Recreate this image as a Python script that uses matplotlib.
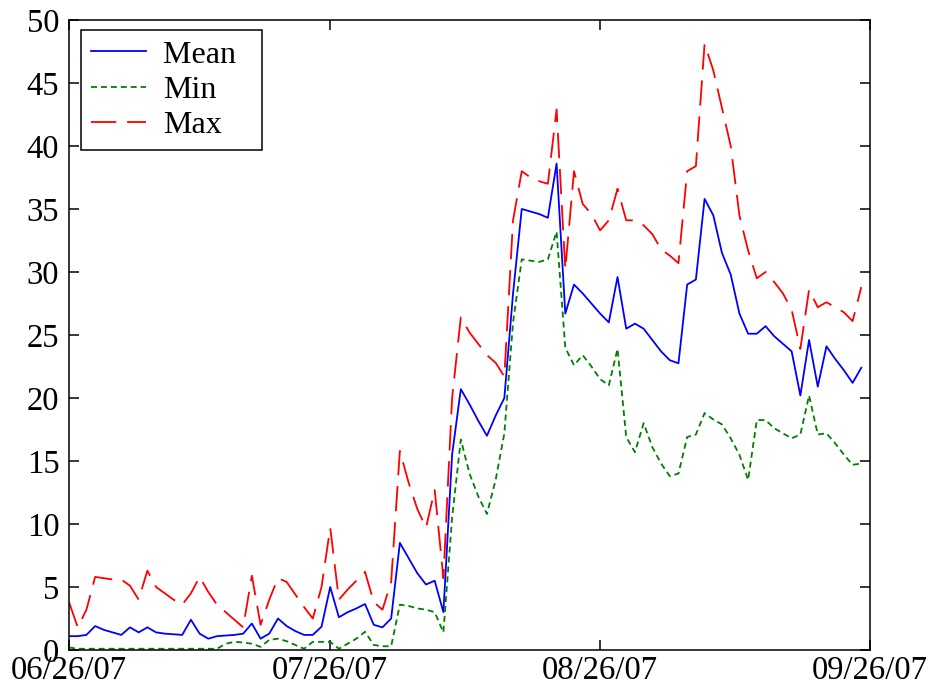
import datetime as dt
import matplotlib
matplotlib.use("Agg")
import matplotlib.pyplot as plt
import matplotlib.dates as mdates

plt.rcParams['font.family'] = ['Liberation Serif', 'DejaVu Serif']

# days after 06/26/07, one reading per day
start = dt.date(2007, 6, 26)
day_offsets = list(range(92))
series_names = ['Mean', 'Min', 'Max']

mean_vals = [1.1, 1.1, 1.2, 1.9, 1.6, 1.4, 1.2, 1.8, 1.4, 1.8,
             1.4, 1.3, 1.25, 1.2, 2.4, 1.3, 0.9, 1.1, 1.15, 1.2,
             1.3, 2.1, 0.9, 1.3, 2.5, 1.9, 1.5, 1.2, 1.2, 1.85,
             5.0, 2.6, 3.0, 3.3, 3.65, 2.0, 1.8, 2.5, 8.5, 7.3,
             6.1, 5.2, 5.5, 3.0, 15.5, 20.7, 19.5, 18.2, 17.0, 18.6,
             20.0, 28.3, 35.0, 34.8, 34.6, 34.3, 38.6, 26.7, 29.0, 28.3,
             27.5, 26.7, 26.0, 29.6, 25.5, 25.9, 25.5, 24.6, 23.7, 23.0,
             22.75, 29.0, 29.4, 35.8, 34.5, 31.5, 29.8, 26.7, 25.1, 25.1,
             25.7, 24.9, 24.3, 23.7, 20.2, 24.6, 20.9, 24.1, 23.1, 22.2,
             21.2, 22.4]

min_vals = [0.2, 0.1, 0.1, 0.1, 0.1, 0.1, 0.1, 0.1, 0.1, 0.1,
            0.1, 0.1, 0.1, 0.1, 0.1, 0.1, 0.1, 0.1, 0.5, 0.65,
            0.6, 0.5, 0.25, 0.8, 0.9, 0.7, 0.4, 0.1, 0.65, 0.65,
            0.65, 0.1, 0.5, 0.9, 1.45, 0.4, 0.3, 0.3, 3.6, 3.5,
            3.3, 3.2, 3.0, 1.4, 10.5, 16.7, 14.0, 12.2, 10.8, 13.5,
            17.2, 26.0, 31.0, 30.9, 30.8, 31.0, 33.2, 24.0, 22.6, 23.4,
            22.5, 21.5, 21.0, 23.9, 16.9, 15.7, 18.0, 16.1, 14.8, 13.8,
            14.0, 16.9, 17.1, 18.8, 18.3, 17.9, 16.8, 15.5, 13.5, 18.25,
            18.25, 17.6, 17.2, 16.8, 17.1, 20.2, 17.1, 17.2, 16.4, 15.5,
            14.7, 14.8]

max_vals = [3.8, 1.8, 3.2, 5.8, 5.7, 5.6, 5.6, 5.1, 4.0, 6.3,
            5.0, 4.5, 4.0, 3.6, 4.5, 5.8, 4.6, 3.6, 3.0, 2.4,
            1.8, 5.9, 2.0, 4.0, 5.7, 5.4, 4.4, 3.4, 2.5, 5.0,
            9.7, 4.0, 4.8, 5.5, 6.2, 3.8, 3.2, 5.4, 15.8, 13.3,
            11.2, 9.7, 12.7, 5.7, 20.0, 26.4, 25.2, 24.3, 23.4, 22.8,
            21.7, 34.1, 38.0, 37.5, 37.2, 37.0, 42.9, 30.2, 38.0, 35.4,
            34.6, 33.3, 34.1, 36.6, 34.1, 34.1, 33.7, 33.0, 31.8, 31.3,
            30.7, 38.0, 38.4, 48.1, 46.0, 43.0, 40.0, 34.5, 31.7, 29.5,
            30.0, 29.2, 28.3, 27.0, 23.9, 28.6, 27.2, 27.6, 27.2, 26.8,
            26.1, 28.8]

tick_dates = [dt.date(2007, 6, 26), dt.date(2007, 7, 26),
              dt.date(2007, 8, 26), dt.date(2007, 9, 26)]

dates = [start + dt.timedelta(days=d) for d in day_offsets]

fig = plt.figure(figsize=(9.29, 6.88), dpi=100)
ax = fig.add_axes([0.0743, 0.0552, 0.8622, 0.9158])

# trailing spaces only widen the legend box like the matlab one
pad = '\u00a0\u00a0'
ax.plot(dates, mean_vals, color=(0, 0, 1), lw=1.3, label=series_names[0] + pad)
ax.plot(dates, min_vals, color=(0, 0.5, 0), lw=1.3, dashes=(3.3, 2.2),
        label=series_names[1])
ax.plot(dates, max_vals, color=(1, 0, 0), lw=1.3, dashes=(14, 6),
        label=series_names[2])

ax.set_xlim(tick_dates[0], tick_dates[-1])
ax.set_ylim(0, 50)
ax.set_xticks(tick_dates)
ax.xaxis.set_major_formatter(mdates.DateFormatter('%m/%d/%y'))
ax.set_yticks(range(0, 51, 5))

ax.tick_params(direction='in', length=7, width=1.1, labelsize=23.5,
               top=True, right=True, colors='black')
ax.tick_params(axis='y', pad=7)
ax.tick_params(axis='x', pad=4)
for s in ax.spines.values():
    s.set_linewidth(1.1)
    s.set_color('black')

leg = ax.legend(loc='upper left', bbox_to_anchor=(0.015, 0.984), borderaxespad=0,
                fancybox=False, edgecolor='black', framealpha=1, fontsize=23,
                handlelength=1.7, handletextpad=0.55, labelspacing=0.18,
                borderpad=0.32)
leg.get_frame().set_linewidth(1.1)

fig.savefig('out.png', dpi=100)
